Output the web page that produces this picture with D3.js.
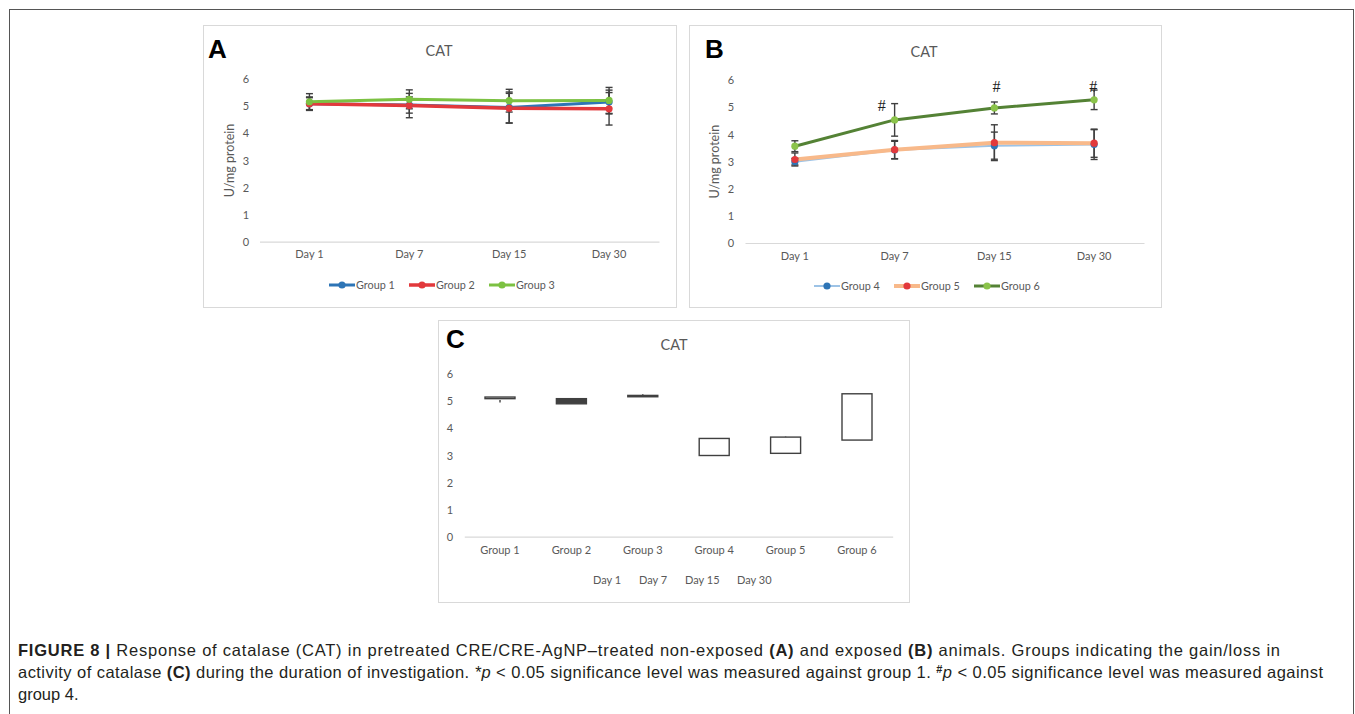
<!DOCTYPE html>
<meta charset="utf-8">
<style>
  body { margin: 0; background: #fff; }
  .tick text, .lbl { font-family: Lato, "Open Sans", sans-serif; fill: #595959; }
  .caption { font-family: "Liberation Sans", Arial, sans-serif; font-size: 16.5px; fill: #231f20; }
</style>
<div class="fig"></div>
<script src="https://cdn.jsdelivr.net/npm/d3@7"></script>
<script>
    // data
    var days = ["Day 1", "Day 7", "Day 15", "Day 30"];
    var groups = ["Group 1", "Group 2", "Group 3", "Group 4", "Group 5", "Group 6"];
    var yTicks = [0, 1, 2, 3, 4, 5, 6];

    var g1Mean = [5.10, 5.05, 4.96, 5.16], g1Err = [0.22, 0.30, 0.57, 0.44];
    var g2Mean = [5.10, 5.03, 4.93, 4.91], g2Err = [0.25, 0.45, 0.55, 0.60];
    var g3Mean = [5.17, 5.26, 5.21, 5.22], g3Err = [0.30, 0.35, 0.42, 0.48];
    var g4Mean = [3.00, 3.43, 3.59, 3.63], g4Err = [0.12, 0.32, 0.50, 0.55];
    var g5Mean = [3.08, 3.44, 3.70, 3.68], g5Err = [0.24, 0.34, 0.66, 0.52];
    var g6Mean = [3.57, 4.54, 4.98, 5.28], g6Err = [0.20, 0.60, 0.22, 0.36];

    // "#" marks on group 6 (day, height)
    var hashDays = ["Day 7", "Day 15", "Day 30"];
    var hashY = [4.85, 5.58, 5.58];
    var hashDx = [-13, 2, -1];

    var svg = d3.select('.fig').append('svg')
        .attr('width', 1355).attr('height', 714);

    svg.append('rect')
        .attr('x', 9.5).attr('y', 9.5)
        .attr('width', 1344).attr('height', 730)
        .attr('fill', 'none').attr('stroke', '#555');

    function panelFrame(box, letter, lx, ly, titleX, titleY) {
        svg.append('rect')
            .attr('x', box.x0 + 0.5).attr('y', box.y0 + 0.5)
            .attr('width', box.x1 - box.x0).attr('height', box.y1 - box.y0)
            .attr('fill', '#fff').attr('stroke', '#d9d9d9');
        svg.append('text')
            .attr('x', lx).attr('y', ly)
            .attr('font-family', '"Liberation Sans", Arial, sans-serif')
            .attr('font-weight', 'bold').attr('font-size', 26)
            .text(letter);
        svg.append('text').attr('class', 'lbl')
            .attr('x', titleX).attr('y', titleY)
            .attr('text-anchor', 'middle').attr('font-size', 14.5)
            .text('CAT');
    }

    function axes(xScale, yScale, labelX, axisY, xLabelPad) {
        var yAxis = d3.axisLeft(yScale).tickValues(yTicks).tickFormat(d3.format('d'))
            .tickSize(0).tickPadding(0);
        svg.append('g')
            .attr('transform', 'translate(' + labelX + ',0)')
            .call(yAxis)
            .call(g => g.select('.domain').remove())
            .selectAll('text').attr('font-size', 11).attr('text-anchor', 'middle');

        var xAxis = d3.axisBottom(xScale).tickSize(0).tickPadding(xLabelPad);
        svg.append('g')
            .attr('transform', 'translate(0,' + axisY + ')')
            .call(xAxis)
            .call(g => g.select('.domain').attr('stroke', '#d9d9d9').attr('stroke-width', 1.2))
            .selectAll('text').attr('font-size', 11);
    }

    function linePanel(box, series, yTitleX, tickX, legendX, legendY) {
        var xScale = d3.scaleBand().domain(days).range([box.ax0, box.ax1]);
        var yScale = d3.scaleLinear().domain([0, 6]).range([box.zeroY, box.sixY]);
        var cx = d => xScale(d) + xScale.bandwidth() / 2;

        axes(xScale, yScale, tickX, box.zeroY, 9);

        svg.append('text').attr('class', 'lbl')
            .attr('transform', 'translate(' + yTitleX + ',' + (box.zeroY + box.sixY) / 2 + ') rotate(-90)')
            .attr('text-anchor', 'middle').attr('font-size', 12.5)
            .text('U/mg protein');

        var line = d3.line().x((d, i) => cx(days[i])).y(d => yScale(d));

        series.forEach(s => {
            svg.append('path')
                .attr('d', line(s.mean))
                .attr('fill', 'none')
                .attr('stroke', s.line).attr('stroke-width', s.width)
                .attr('stroke-linejoin', 'round');
        });

        series.forEach(s => {
            var eb = svg.append('g').attr('stroke', '#3f3f3f').attr('stroke-width', 1.4);
            s.mean.forEach((m, i) => {
                var x = cx(days[i]);
                eb.append('line').attr('x1', x).attr('x2', x)
                    .attr('y1', yScale(m - s.err[i])).attr('y2', yScale(m + s.err[i]));
                [m - s.err[i], m + s.err[i]].forEach(v => {
                    eb.append('line').attr('x1', x - 3.5).attr('x2', x + 3.5)
                        .attr('y1', yScale(v)).attr('y2', yScale(v));
                });
            });
        });

        series.forEach(s => {
            svg.append('g').selectAll('circle')
                .data(s.mean).enter().append('circle')
                .attr('cx', (d, i) => cx(days[i]))
                .attr('cy', d => yScale(d))
                .attr('r', 3.6)
                .attr('fill', s.marker);
        });

        // legend
        series.forEach((s, i) => {
            var x0 = legendX[i];
            svg.append('line')
                .attr('x1', x0).attr('x2', x0 + 26)
                .attr('y1', legendY).attr('y2', legendY)
                .attr('stroke', s.line).attr('stroke-width', s.width);
            svg.append('circle')
                .attr('cx', x0 + 13).attr('cy', legendY).attr('r', 3.6)
                .attr('fill', s.marker);
            svg.append('text').attr('class', 'lbl')
                .attr('x', x0 + 27).attr('y', legendY + 3.8)
                .attr('font-size', 10.8)
                .text(s.name);
        });

        return {x: cx, y: yScale};
    }

    // Panel A
    var boxA = {x0: 203, y0: 25, x1: 676, y1: 307, ax0: 259.5, ax1: 659, zeroY: 241.7, sixY: 79.3};
    panelFrame(boxA, 'A', 208, 58, 439, 56);
    linePanel(boxA, [
        {name: 'Group 1', mean: g1Mean, err: g1Err, line: '#2e75b6', marker: '#2e75b6', width: 3},
        {name: 'Group 2', mean: g2Mean, err: g2Err, line: '#e2393c', marker: '#e2393c', width: 3.5},
        {name: 'Group 3', mean: g3Mean, err: g3Err, line: '#7cc142', marker: '#7cc142', width: 3}
    ], 234, 246, [329, 409, 489], 285);

    // Panel B
    var boxB = {x0: 689, y0: 25, x1: 1161, y1: 307, ax0: 745, ax1: 1144, zeroY: 243, sixY: 80.3};
    panelFrame(boxB, 'B', 705, 58, 924, 57);
    var sB = linePanel(boxB, [
        {name: 'Group 4', mean: g4Mean, err: g4Err, line: '#9dc3e6', marker: '#2e75b6', width: 2},
        {name: 'Group 5', mean: g5Mean, err: g5Err, line: '#f8b98a', marker: '#e2393c', width: 4},
        {name: 'Group 6', mean: g6Mean, err: g6Err, line: '#548235', marker: '#8bc34a', width: 3}
    ], 719, 731, [814, 894, 974], 286);

    svg.append('g').selectAll('text')
        .data(hashDays).enter().append('text')
        .attr('x', (d, i) => sB.x(d) + hashDx[i])
        .attr('y', (d, i) => sB.y(hashY[i]))
        .attr('text-anchor', 'middle')
        .attr('font-family', '"Liberation Serif", "Times New Roman", serif')
        .attr('font-size', 16).attr('fill', '#222')
        .text('#');

    // Panel C : stock chart (open = Day 1, high = Day 7, low = Day 15, close = Day 30)
    var boxC = {x0: 438, y0: 320, x1: 909, y1: 602};
    panelFrame(boxC, 'C', 446, 348, 674, 350);
    var xC = d3.scaleBand().domain(groups).range([464.3, 892.7]);
    var yC = d3.scaleLinear().domain([0, 6]).range([536.7, 374.3]);
    axes(xC, yC, 450, 536.7, 10);

    var allMeans = [g1Mean, g2Mean, g3Mean, g4Mean, g5Mean, g6Mean];
    var ohlc = groups.map((g, i) => ({
        group: g,
        open: allMeans[i][0], high: allMeans[i][1], low: allMeans[i][2], close: allMeans[i][3]
    }));
    var boxW = 30;
    var candles = svg.append('g').selectAll('g').data(ohlc).enter().append('g')
        .attr('transform', d => 'translate(' + (xC(d.group) + xC.bandwidth() / 2) + ',0)');
    candles.append('line')
        .attr('y1', d => yC(d.high)).attr('y2', d => yC(d.low))
        .attr('stroke', '#404040').attr('stroke-width', 1.4);
    candles.append('rect')
        .attr('x', -boxW / 2)
        .attr('y', d => yC(Math.max(d.open, d.close)))
        .attr('width', boxW)
        .attr('height', d => Math.max(1, Math.abs(yC(d.open) - yC(d.close))))
        .attr('fill', d => d.close >= d.open ? '#fff' : '#404040')
        .attr('stroke', '#404040').attr('stroke-width', 1.4);

    var legendCx = [593, 639, 685, 737];
    svg.append('g').selectAll('text').data(days).enter().append('text')
        .attr('class', 'lbl')
        .attr('x', (d, i) => legendCx[i]).attr('y', 584)
        .attr('font-size', 11)
        .text(d => d);

    // caption
    var cap1 = svg.append('text').attr('class', 'caption').attr('x', 18).attr('y', 656)
        .attr('textLength', 1262).attr('lengthAdjust', 'spacing');
    cap1.append('tspan').attr('font-weight', 'bold').text('FIGURE 8 | ');
    cap1.append('tspan').text('Response of catalase (CAT) in pretreated CRE/CRE-AgNP\u2013treated non-exposed ');
    cap1.append('tspan').attr('font-weight', 'bold').text('(A)');
    cap1.append('tspan').text(' and exposed ');
    cap1.append('tspan').attr('font-weight', 'bold').text('(B)');
    cap1.append('tspan').text(' animals. Groups indicating the gain/loss in');

    var cap2 = svg.append('text').attr('class', 'caption').attr('x', 18).attr('y', 678)
        .attr('textLength', 1305).attr('lengthAdjust', 'spacing');
    cap2.append('tspan').text('activity of catalase ');
    cap2.append('tspan').attr('font-weight', 'bold').text('(C)');
    cap2.append('tspan').text(' during the duration of investigation. ');
    cap2.append('tspan').attr('font-style', 'italic').text('*p');
    cap2.append('tspan').text(' < 0.05 significance level was measured against group 1. ');
    cap2.append('tspan').attr('font-weight', 'bold').attr('font-size', 11).attr('dy', -5).text('#');
    cap2.append('tspan').attr('font-style', 'italic').attr('dy', 5).text('p');
    cap2.append('tspan').text(' < 0.05 significance level was measured against');

    svg.append('text').attr('class', 'caption').attr('x', 18).attr('y', 700).text('group 4.');
</script>
